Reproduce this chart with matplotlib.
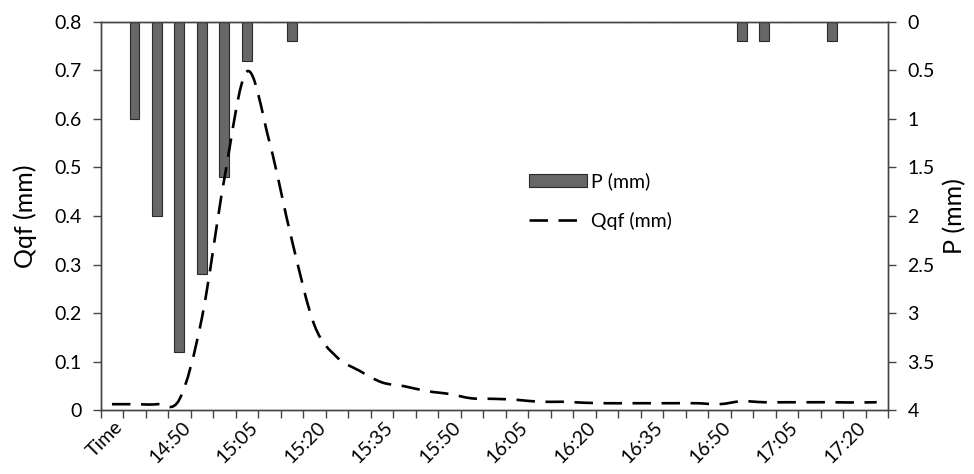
import matplotlib
matplotlib.use("Agg")
import matplotlib.pyplot as plt
import numpy as np
from matplotlib.path import Path
from matplotlib.patches import PathPatch, Patch
from matplotlib.lines import Line2D
from matplotlib.ticker import FuncFormatter

plt.rcParams['font.family'] = ['Lato', 'DejaVu Sans']

# ---- data ----
times = ["Time", "14:40", "14:45", "14:50", "14:55", "15:00", "15:05", "15:10", "15:15",
         "15:20", "15:25", "15:30", "15:35", "15:40", "15:45", "15:50", "15:55", "16:00",
         "16:05", "16:10", "16:15", "16:20", "16:25", "16:30", "16:35", "16:40", "16:45",
         "16:50", "16:55", "17:00", "17:05", "17:10", "17:15", "17:20", "17:25"]
label_every = 3

p_mm = [0, 1.0, 2.0, 3.4, 2.6, 1.6, 0.4, 0, 0.2, 0, 0, 0, 0, 0, 0, 0, 0, 0,
        0, 0, 0, 0, 0, 0, 0, 0, 0, 0, 0.2, 0.2, 0, 0, 0.2, 0, 0]

qqf_mm = [0.012, 0.012, 0.012, 0.022, 0.19, 0.478, 0.698, 0.553, 0.35, 0.175,
          0.109, 0.081, 0.057, 0.049, 0.039, 0.033, 0.024, 0.023, 0.021, 0.017,
          0.017, 0.015, 0.014, 0.014, 0.014, 0.014, 0.014, 0.012, 0.018, 0.016,
          0.016, 0.016, 0.016, 0.0155, 0.016]

# ---- figure ----
fig = plt.figure(figsize=(9.74, 4.74), dpi=100)
ax = fig.add_axes([0.1034, 0.135, 0.9117 - 0.1034, 0.9536 - 0.135])
ax2 = ax.twinx()

x = np.arange(len(times))

# bars on secondary (inverted) axis
ax2.bar(x, p_mm, width=0.44, color='#676767', edgecolor='#2a2a2a', linewidth=0.8)
ax2.set_ylim(4, 0)
ax2.set_yticks(np.arange(0, 4.01, 0.5))
ax2.yaxis.set_major_formatter(FuncFormatter(lambda v, p: f"{v:g}"))
ax2.set_ylabel("P (mm)", fontsize=18, labelpad=6)

# smooth line (Catmull-Rom -> cubic Bezier) on primary axis
xs = x.astype(float)
ys = np.array(qqf_mm, dtype=float)
verts = [(xs[0], ys[0])]
codes = [Path.MOVETO]
n = len(xs)
t = 0.5
for i in range(n - 1):
    x0, y0 = (xs[i - 1], ys[i - 1]) if i > 0 else (xs[i], ys[i])
    x1, y1 = xs[i], ys[i]
    x2, y2 = xs[i + 1], ys[i + 1]
    x3, y3 = (xs[i + 2], ys[i + 2]) if i + 2 < n else (xs[i + 1], ys[i + 1])
    c1 = (x1 + (x2 - x0) * t / 3, y1 + (y2 - y0) * t / 3)
    c2 = (x2 - (x3 - x1) * t / 3, y2 - (y3 - y1) * t / 3)
    verts += [c1, c2, (x2, y2)]
    codes += [Path.CURVE4] * 3
dash = (0, (7, 4))
patch = PathPatch(Path(verts, codes), fill=False, edgecolor='black', linewidth=1.9,
                  linestyle=dash, capstyle='butt')
ax.add_patch(patch)

ax.set_xlim(-0.5, len(times) - 0.5)
ax.set_ylim(0, 0.8)
ax.set_yticks(np.arange(0, 0.81, 0.1))
ax.yaxis.set_major_formatter(FuncFormatter(lambda v, p: f"{v:g}"))
ax.set_ylabel("Qqf (mm)", fontsize=18, labelpad=12)

# layering: line above bars
ax.set_zorder(ax2.get_zorder() + 1)
ax.patch.set_visible(False)

# x ticks at category boundaries, labels every 3rd category
ax.set_xticks(np.arange(-0.5, len(times), 1.0))
ax.set_xticklabels([])
ax.set_xticks(x[::label_every] + 0.1, minor=True)
ax.set_xticklabels([times[i] for i in range(0, len(times), label_every)], minor=True,
                   rotation=45, ha='right', rotation_mode='anchor', fontsize=14)
ax.tick_params(axis='x', which='minor', length=0, pad=6)
ax.tick_params(axis='x', which='major', length=6, direction='out', width=1, color='#444444')
ax.tick_params(axis='y', length=6, direction='out', width=1, color='#444444',
               labelsize=14, pad=8)
ax2.tick_params(axis='y', length=6, direction='out', width=1, color='#444444',
                labelsize=14, pad=8)

for a in (ax, ax2):
    for s in a.spines.values():
        s.set_color('#444444')
        s.set_linewidth(1.0)

handles = [Patch(facecolor='#676767', edgecolor='#2a2a2a', linewidth=0.8),
           Line2D([0], [0], color='black', linewidth=1.9, linestyle=dash)]
ax.legend(handles, ["P (mm)", "Qqf (mm)"], loc='upper left', bbox_to_anchor=(0.534, 0.632),
          frameon=False, fontsize=14, handlelength=3.0, handletextpad=0.2,
          labelspacing=1.1, handleheight=0.65, borderaxespad=0)

fig.savefig("out.png", dpi=100)
